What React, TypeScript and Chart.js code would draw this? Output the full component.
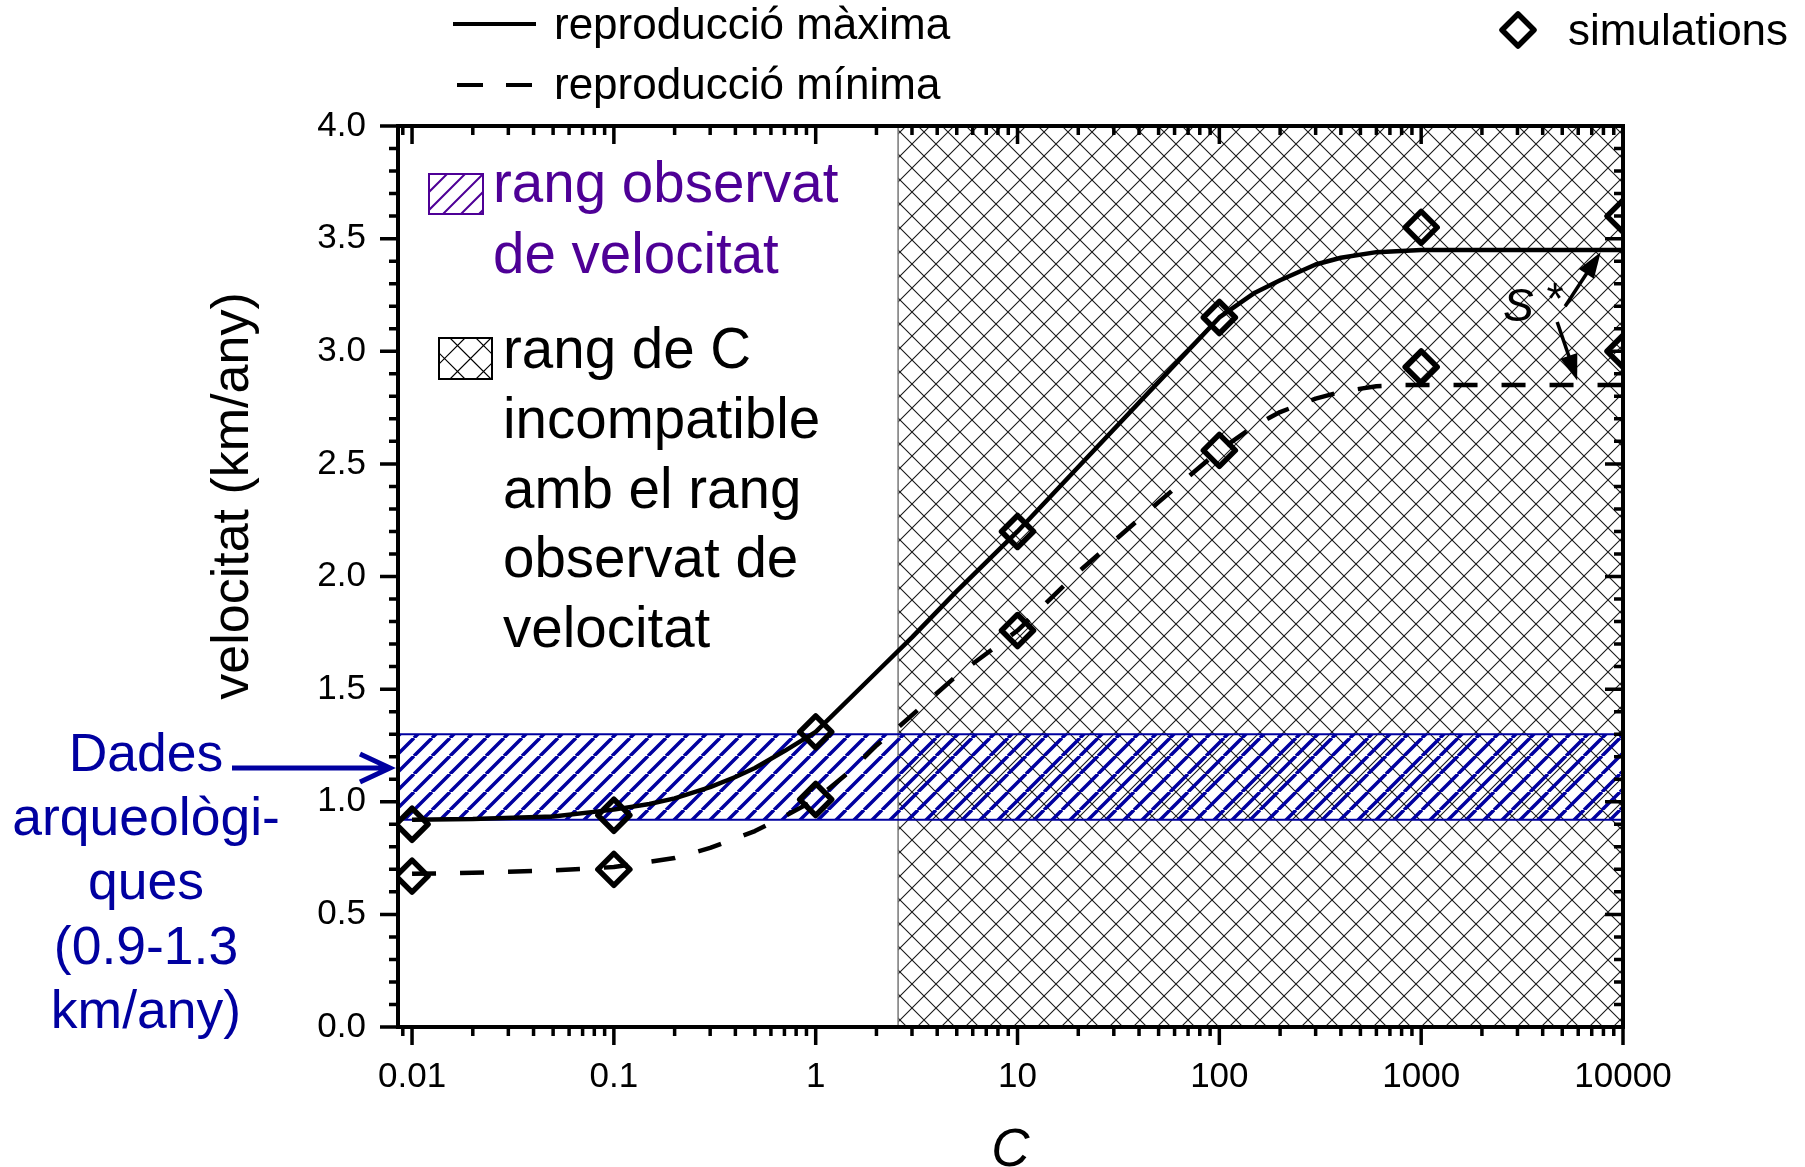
import React, { useEffect, useRef } from 'react';
import { Chart, registerables } from 'chart.js';

Chart.register(...registerables);

// ---------------- data ----------------
const SIM_C = [0.01, 0.1, 1, 10, 100, 1000, 10000];
const SIM_MAX_V = [0.9, 0.94, 1.31, 2.2, 3.15, 3.55, 3.6];
const SIM_MIN_V = [0.67, 0.7, 1.01, 1.76, 2.56, 2.93, 3.0];

const MAX_C = [0.01, 0.02, 0.05, 0.1, 0.15, 0.2, 0.3, 0.4, 0.5, 0.7, 1, 2, 3, 5, 10, 20, 50, 100, 150, 200, 300, 400, 600, 1000, 10000];
const MAX_V = [0.92, 0.923, 0.935, 0.965, 0.99, 1.015, 1.065, 1.11, 1.15, 1.225, 1.31, 1.575, 1.73, 1.935, 2.2, 2.486, 2.864, 3.15, 3.26, 3.315, 3.385, 3.415, 3.44, 3.45, 3.45];

const MIN_C = [0.01, 0.02, 0.05, 0.1, 0.2, 0.3, 0.5, 0.7, 1, 1.5, 2, 2.56, 5, 10, 20, 50, 100, 150, 200, 300, 400, 600, 800, 10000];
const MIN_V = [0.68, 0.685, 0.695, 0.71, 0.75, 0.795, 0.87, 0.935, 1.01, 1.14, 1.25, 1.33, 1.56, 1.76, 2.02, 2.33, 2.56, 2.67, 2.73, 2.79, 2.82, 2.845, 2.85, 2.85];

const INCOMPATIBLE_C = [2.56, 10000];
const OBSERVED_V = [0.92, 1.3];

const X_RANGE = [0.00852, 10000];
const Y_RANGE = [0, 4];
const X_TICKS = [0.01, 0.1, 1, 10, 100, 1000, 10000];
const X_TICK_LABELS = ['0.01', '0.1', '1', '10', '100', '1000', '10000'];
const Y_TICKS = [0, 0.5, 1, 1.5, 2, 2.5, 3, 3.5, 4];
const Y_TICK_LABELS = ['0.0', '0.5', '1.0', '1.5', '2.0', '2.5', '3.0', '3.5', '4.0'];

const LEGEND_MAX = 'reproducció màxima';
const LEGEND_MIN = 'reproducció mínima';
const LEGEND_SIM = 'simulations';
const OBS_TEXT = ['rang observat', 'de velocitat'];
const INC_TEXT = ['rang de C', 'incompatible', 'amb el rang', 'observat de', 'velocitat'];
const DADES_TEXT = ['Dades', 'arqueològi-', 'ques', '(0.9-1.3', 'km/any)'];
const Y_TITLE = 'velocitat (km/any)';
const X_TITLE = 'C';

// annotation anchors in data units
const S_LABEL_AT = [3030, 3.19];
const STAR_AT = [4610, 3.22];
const ARROW_UP = [[5170, 3.2], [7750, 3.44]];
const ARROW_DOWN = [[4720, 3.13], [5930, 2.87]];
const DADES_ARROW_V = 1.15;

// ---------------- styling ----------------
const W = 1805;
const H = 1167;
const FONT = '"Liberation Sans", Arial, Helvetica, sans-serif';
const BLUE = '#0000A0';
const PURPLE = '#4E0096';

const pts = (xs: number[], ys: number[]) => xs.map((x, i) => ({ x, y: ys[i] }));

function makePattern(ctx: CanvasRenderingContext2D, period: number, lw: number, color: string, both: boolean) {
  const c = document.createElement('canvas');
  c.width = period;
  c.height = period;
  const g = c.getContext('2d')!;
  g.strokeStyle = color;
  g.lineWidth = lw;
  g.beginPath();
  for (const o of [-period, 0, period]) {
    g.moveTo(o, period);
    g.lineTo(o + period, 0);
  }
  if (both) {
    for (const o of [-period, 0, period]) {
      g.moveTo(o, 0);
      g.lineTo(o + period, period);
    }
  }
  g.stroke();
  return ctx.createPattern(c, 'repeat')!;
}

function hatchRect(ctx: CanvasRenderingContext2D, x: number, y: number, w: number, h: number, period: number, color: string, lw: number, both: boolean) {
  ctx.save();
  ctx.beginPath();
  ctx.rect(x, y, w, h);
  ctx.clip();
  ctx.strokeStyle = color;
  ctx.lineWidth = lw;
  ctx.beginPath();
  for (let o = -h; o < w + h; o += period) {
    ctx.moveTo(x + o, y + h);
    ctx.lineTo(x + o + h, y);
    if (both) {
      ctx.moveTo(x + o, y);
      ctx.lineTo(x + o + h, y + h);
    }
  }
  ctx.stroke();
  ctx.restore();
  ctx.save();
  ctx.strokeStyle = color;
  ctx.lineWidth = 2;
  ctx.strokeRect(x, y, w, h);
  ctx.restore();
}

function drawArrowFilled(ctx: CanvasRenderingContext2D, x1: number, y1: number, x2: number, y2: number) {
  const a = Math.atan2(y2 - y1, x2 - x1);
  const len = 26;
  const hw = 9;
  ctx.beginPath();
  ctx.moveTo(x1, y1);
  ctx.lineTo(x2 - Math.cos(a) * len * 0.8, y2 - Math.sin(a) * len * 0.8);
  ctx.stroke();
  ctx.beginPath();
  ctx.moveTo(x2, y2);
  ctx.lineTo(x2 - Math.cos(a) * len + Math.sin(a) * hw, y2 - Math.sin(a) * len - Math.cos(a) * hw);
  ctx.lineTo(x2 - Math.cos(a) * len - Math.sin(a) * hw, y2 - Math.sin(a) * len + Math.cos(a) * hw);
  ctx.closePath();
  ctx.fill();
}

const decor = {
  id: 'decor',
  beforeDatasetDraw(chart: any, args: any) {
    if (args.index <= 1) chart.ctx.lineJoin = 'round';
  },
  afterDatasetDraw(chart: any, args: any) {
    if (args.index <= 1) chart.ctx.lineJoin = 'miter';
  },
  afterDatasetsDraw(chart: any) {
    const ctx: CanvasRenderingContext2D = chart.ctx;
    const ca = chart.chartArea;
    const xs = chart.scales.x;
    const ys = chart.scales.y;
    const px = (v: number) => xs.getPixelForValue(v);
    const py = (v: number) => ys.getPixelForValue(v);
    const txt = (s: string, x: number, y: number, size: number, color = '#000', align: CanvasTextAlign = 'left', base: CanvasTextBaseline = 'alphabetic', italic = false) => {
      ctx.font = `${italic ? 'italic ' : ''}${size}px ${FONT}`;
      ctx.fillStyle = color;
      ctx.textAlign = align;
      ctx.textBaseline = base;
      ctx.fillText(s, x, y);
    };

    ctx.save();
    // frame
    ctx.strokeStyle = '#000';
    ctx.lineWidth = 4;
    ctx.strokeRect(ca.left, ca.top, ca.right - ca.left, ca.bottom - ca.top);

    // ticks
    const MAJ = 18;
    const MIN = 9;
    ctx.lineWidth = 3.5;
    ctx.beginPath();
    for (let k = -3; k <= 4; k++) {
      for (let m = 1; m <= 9; m++) {
        const v = m * Math.pow(10, k);
        if (v < X_RANGE[0] * 0.999 || v > X_RANGE[1] * 1.001) continue;
        const x = px(v);
        const len = m === 1 ? MAJ : MIN;
        ctx.moveTo(x, ca.bottom);
        ctx.lineTo(x, ca.bottom + len);
        ctx.moveTo(x, ca.top);
        ctx.lineTo(x, ca.top + len);
      }
    }
    for (let i = 0; i <= 40; i++) {
      const v = i / 10;
      const y = py(v);
      const len = i % 5 === 0 ? MAJ : MIN;
      ctx.moveTo(ca.left - len, y);
      ctx.lineTo(ca.left, y);
      ctx.moveTo(ca.right - len, y);
      ctx.lineTo(ca.right, y);
    }
    ctx.stroke();

    // tick labels
    X_TICKS.forEach((v, i) => txt(X_TICK_LABELS[i], px(v), ca.bottom + 50, 35, '#000', 'center', 'middle'));
    Y_TICKS.forEach((v, i) => txt(Y_TICK_LABELS[i], ca.left - 32, py(v), 35, '#000', 'right', 'middle'));

    // axis titles
    txt(X_TITLE, (ca.left + ca.right) / 2, ca.bottom + 124, 53, '#000', 'center', 'middle', true);
    ctx.save();
    ctx.translate(ca.left - 150, ca.top + 370);
    ctx.rotate(-Math.PI / 2);
    txt(Y_TITLE, 0, 0, 52, '#000', 'center', 'alphabetic');
    ctx.restore();

    // top legend
    ctx.strokeStyle = '#000';
    ctx.lineWidth = 4;
    ctx.beginPath();
    ctx.moveTo(ca.left + 55, ca.top - 102);
    ctx.lineTo(ca.left + 138, ca.top - 102);
    ctx.stroke();
    ctx.setLineDash([26, 23]);
    ctx.beginPath();
    ctx.moveTo(ca.left + 59, ca.top - 41);
    ctx.lineTo(ca.left + 135, ca.top - 41);
    ctx.stroke();
    ctx.setLineDash([]);
    txt(LEGEND_MAX, ca.left + 156, ca.top - 87, 44);
    txt(LEGEND_MIN, ca.left + 156, ca.top - 27, 44);
    // simulations legend diamond
    ctx.lineWidth = 5.5;
    ctx.lineJoin = 'round';
    const dx = ca.right - 105;
    const dy = ca.top - 96;
    const r = 16;
    ctx.beginPath();
    ctx.moveTo(dx, dy - r);
    ctx.lineTo(dx + r, dy);
    ctx.lineTo(dx, dy + r);
    ctx.lineTo(dx - r, dy);
    ctx.closePath();
    ctx.stroke();
    ctx.lineJoin = 'miter';
    txt(LEGEND_SIM, ca.right - 55, ca.top - 81, 44);

    // in-plot legend
    hatchRect(ctx, ca.left + 31, ca.top + 48, 54, 40, 18, PURPLE, 2, false);
    txt(OBS_TEXT[0], ca.left + 95, ca.top + 76, 56.5, PURPLE);
    txt(OBS_TEXT[1], ca.left + 95, ca.top + 147, 56.5, PURPLE);
    hatchRect(ctx, ca.left + 41, ca.top + 212, 53, 41, 26, '#000', 1.2, true);
    INC_TEXT.forEach((s, i) => txt(s, ca.left + 105, ca.top + 242 + i * 69.8, 56.5));

    // Dades arqueologiques
    DADES_TEXT.forEach((s, i) => txt(s, ca.left - 252, ca.top + 645 + i * 64.2, 53.5, BLUE, 'center'));
    const ay = py(DADES_ARROW_V);
    const tipX = ca.left - 8;
    ctx.strokeStyle = BLUE;
    ctx.lineWidth = 5;
    ctx.beginPath();
    ctx.moveTo(ca.left - 166, ay);
    ctx.lineTo(tipX, ay);
    ctx.moveTo(tipX - 30, ay - 14);
    ctx.lineTo(tipX, ay);
    ctx.lineTo(tipX - 30, ay + 14);
    ctx.stroke();

    // S* annotation
    txt('S', px(S_LABEL_AT[0]), py(S_LABEL_AT[1]), 46, '#000', 'center', 'middle', true);
    txt('*', px(STAR_AT[0]), py(STAR_AT[1]), 44, '#000', 'center', 'middle');
    ctx.strokeStyle = '#000';
    ctx.fillStyle = '#000';
    ctx.lineWidth = 3.5;
    drawArrowFilled(ctx, px(ARROW_UP[0][0]), py(ARROW_UP[0][1]), px(ARROW_UP[1][0]), py(ARROW_UP[1][1]));
    drawArrowFilled(ctx, px(ARROW_DOWN[0][0]), py(ARROW_DOWN[0][1]), px(ARROW_DOWN[1][0]), py(ARROW_DOWN[1][1]));

    ctx.restore();
  },
};

export default function App() {
  const ref = useRef<HTMLCanvasElement>(null);
  useEffect(() => {
    const canvas = ref.current!;
    const ctx = canvas.getContext('2d')!;
    const cross = makePattern(ctx, 24, 1.1, '#1a1a1a', true);
    const blueHatch = makePattern(ctx, 18, 3.5, BLUE, false);
    const chart = new Chart(canvas, {
      type: 'line',
      data: {
        datasets: [
          {
            label: 'simulations max',
            data: pts(SIM_C, SIM_MAX_V),
            showLine: false,
            pointStyle: 'rectRot',
            pointRadius: 16,
            pointBorderWidth: 5.5,
            pointBorderColor: '#000',
            pointBackgroundColor: 'rgba(0,0,0,0)',
            clip: 0,
          },
          {
            label: 'simulations min',
            data: pts(SIM_C, SIM_MIN_V),
            showLine: false,
            pointStyle: 'rectRot',
            pointRadius: 16,
            pointBorderWidth: 5.5,
            pointBorderColor: '#000',
            pointBackgroundColor: 'rgba(0,0,0,0)',
            clip: 0,
          },
          {
            label: LEGEND_MAX,
            data: pts(MAX_C, MAX_V),
            borderColor: '#000',
            borderWidth: 4.5,
            borderJoinStyle: 'round',
            pointRadius: 0,
            tension: 0,
            fill: false,
          },
          {
            label: LEGEND_MIN,
            data: pts(MIN_C, MIN_V),
            borderColor: '#000',
            borderWidth: 4.5,
            borderDash: [24, 24],
            borderJoinStyle: 'round',
            pointRadius: 0,
            tension: 0,
            fill: false,
          },
          {
            label: 'observed low',
            data: pts(X_RANGE, [OBSERVED_V[0], OBSERVED_V[0]]),
            borderColor: BLUE,
            borderWidth: 2,
            pointRadius: 0,
            fill: false,
          },
          {
            label: 'observed range',
            data: pts(X_RANGE, [OBSERVED_V[1], OBSERVED_V[1]]),
            borderColor: BLUE,
            borderWidth: 2,
            pointRadius: 0,
            backgroundColor: blueHatch,
            fill: { value: OBSERVED_V[0] },
          },
          {
            label: 'incompatible edge',
            data: pts([INCOMPATIBLE_C[0], INCOMPATIBLE_C[0]], Y_RANGE),
            borderColor: '#777',
            borderWidth: 1.5,
            pointRadius: 0,
            fill: false,
          },
          {
            label: 'incompatible C',
            data: pts(INCOMPATIBLE_C, [Y_RANGE[1], Y_RANGE[1]]),
            borderWidth: 0,
            borderColor: 'rgba(0,0,0,0)',
            pointRadius: 0,
            backgroundColor: cross,
            fill: { value: Y_RANGE[0] },
          },
        ],
      } as any,
      options: {
        responsive: false,
        animation: false,
        devicePixelRatio: 1,
        events: [],
        layout: { padding: { left: 398, top: 126, right: W - 1623, bottom: H - 1027 } },
        plugins: { legend: { display: false }, tooltip: { enabled: false } },
        scales: {
          x: { type: 'logarithmic', min: X_RANGE[0], max: X_RANGE[1], display: false },
          y: { type: 'linear', min: Y_RANGE[0], max: Y_RANGE[1], display: false },
        },
      } as any,
      plugins: [decor],
    });
    return () => chart.destroy();
  }, []);
  return (
    <div style={{ position: 'fixed', left: 0, top: 0, width: W, height: H }}>
      <canvas ref={ref} width={W} height={H} style={{ display: 'block', width: W, height: H }} />
    </div>
  );
}
